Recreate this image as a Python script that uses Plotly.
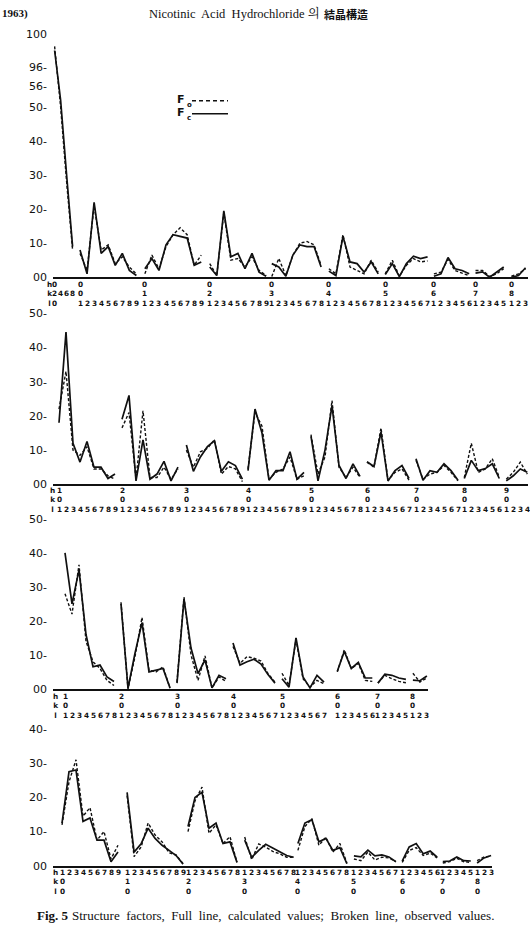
import plotly.graph_objects as go

W, H = 530, 940

# ---------------- DATA ----------------
# Panel 1 : 0kl reflections (Fc = calculated, Fo = observed)
P1_FC = [
    [98, 52, 30, 9],
    [8, 1, 22, 7, 9, 3.5, 7, 2, 0.5],
    [2.5, 5.5, 2, 9.5, 12.5, 12, 11.5, 3.5, 4.5],
    [3, 0.5, 19.5, 6, 7, 2.5, 7, 1.5, 0.3],
    [4, 3, 0.3, 6.5, 9.5, 9, 9, 3],
    [1.8, 0.5, 12, 4.5, 4, 1.5, 4.5, 1],
    [0.8, 4, 0.2, 4, 6.2, 5.5, 6],
    [0.3, 1, 5.8, 2.5, 2, 1],
    [1.2, 1.6, 0, 1.5, 3],
    [0, 0.5, 2.8],
]
P1_FO = [
    [98.5, 50, 28, 8],
    [7, 2, 21, 8, 9.5, 4, 6, 3, 1],
    [1, 6.5, 2.5, 9, 12.5, 14.5, 12.5, 3.5, 6.5],
    [4, 0.5, 19, 5, 5.5, 3, 6, 2, 0.5],
    [0.2, 5.5, 0.5, 6.5, 10, 10.5, 9.5, 3.5],
    [2.5, 1, 12.5, 3, 2, 1, 5, 1.5],
    [1, 5, 0.3, 3.5, 5.5, 4.5, 4.8],
    [1, 1.5, 5.2, 2, 1.2, 0.5],
    [2, 2, 0.2, 1, 2.5],
    [0.3, 1, 2.5],
]
P1_H = ["0", "0", "0", "0", "0", "0", "0", "0", "0", "0"]
P1_K = [None, "0", "1", "2", "3", "4", "5", "6", "7", "8"]
P1_L = ["0", None, None, None, None, None, None, None, None, None]
P1_RUN0 = ["2", "4", "6", "8"]          # k values of the first group

# Panel 2 : h0l, h = 1..9
P2_FC = [
    [18, 44.5, 12, 6.5, 12.5, 5, 5, 1.7, 3],
    [19, 26, 1, 13, 1.5, 3, 6.7, 1, 5],
    [11.5, 3.8, 8, 11, 12.7, 3.8, 6.6, 5.5, 1.5],
    [4, 22, 15, 1.2, 4, 4, 9.5, 1.5, 3.5],
    [14, 1, 10, 23, 5.5, 1.7, 6, 2.3],
    [6.6, 5.2, 15.3, 1, 4, 5.5, 1.7],
    [7.5, 1.2, 4, 3.5, 6, 4, 1.2],
    [1.7, 7, 4, 4.6, 6, 1.7],
    [1, 2.5, 4.5, 3.5],
]
P2_FO = [
    [22, 33, 10, 8.5, 11, 4.5, 4.5, 2.5, 1.5],
    [16.5, 21, 1.5, 21.5, 2, 2, 5, 1.5, 4.5],
    [10, 5, 9.5, 10.5, 13, 3, 5.2, 4.5, 0.8],
    [4.5, 21, 17, 1.5, 3.5, 4.5, 8, 1.5, 2.5],
    [14.5, 3, 8, 24.5, 5, 2, 5, 2],
    [6.5, 5, 16.5, 1.2, 3.5, 4.5, 1.2],
    [7, 1.5, 3, 3.5, 5.5, 3.5, 1],
    [2, 12, 3.5, 4.5, 7.5, 2],
    [1.5, 3.5, 6.5, 3],
]
P2_H = ["1", "2", "3", "4", "5", "6", "7", "8", "9"]
P2_K = ["0", "0", "0", "0", "0", "0", "0", "0", "0"]

# Panel 3 : h0l, h = 1..8 (second set)
P3_FC = [
    [40, 25, 35, 16, 6.5, 7, 3.5, 2.2],
    [25, 0.2, 10.5, 19.5, 5, 5.5, 6, 0.3],
    [1.7, 26.5, 12, 4.5, 8.5, 0.3, 4, 3],
    [13.5, 7, 8, 8.7, 7.3, 4.2, 1.7],
    [3, 0.5, 15, 3.5, 0.3, 4, 2],
    [5.2, 11, 6, 7.8, 3.2, 3.2],
    [1.7, 4.3, 4, 3.2, 2.8],
    [2.6, 2.4, 3.8],
]
P3_FO = [
    [28, 22, 36.5, 14, 8, 6, 2.5, 1],
    [25.5, 0, 9.5, 21, 5.5, 5, 6.5, 0.2],
    [2, 27, 10, 2.5, 9.7, 0.3, 3.5, 2.2],
    [12.5, 7.5, 9.5, 9, 8.2, 4.5, 2],
    [4.6, 1, 14.5, 3, 0.5, 2.5, 1.5],
    [5, 11.5, 6, 7.5, 2.5, 2.2],
    [1.7, 4, 3, 2.2, 1.8],
    [4.6, 2, 3.2],
]
P3_H = ["1", "2", "3", "4", "5", "6", "7", "8"]
P3_K = ["0", "0", "0", "0", "0", "0", "0", "0"]

# Panel 4 : hk0, k = 0..8
P4_FC = [
    [12.5, 27.5, 28, 13, 14, 7.5, 7.5, 1.2, 4],
    [21.5, 4, 6.4, 11, 8, 6, 4.5, 3, 0.5],
    [11.5, 20, 21.5, 11, 12.5, 6.5, 7, 1],
    [7.5, 2.5, 4.5, 6.3, 5.2, 4, 3, 2.5],
    [6.5, 12.5, 13.5, 7, 8, 4.5, 5.3, 0.6],
    [2.9, 2.6, 4.6, 2.9, 3.2, 2.6, 1.2],
    [1.4, 5.5, 6.5, 3.5, 4.3, 2.5],
    [1.2, 1.4, 2.6, 1.5, 1.4],
    [0.8, 2.3, 3],
]
P4_FO = [
    [12, 24.5, 31, 14.5, 17, 7.5, 10, 2, 6],
    [20.5, 2.7, 5.5, 12.5, 9, 7, 3.8, 3.2, 0.6],
    [10, 19, 23, 9.5, 12, 6.5, 8.5, 1],
    [8.4, 1.8, 6.4, 5.5, 4.2, 3.5, 2.5, 2.5],
    [4.5, 11.5, 13.8, 6, 8.3, 4, 6.5, 0.8],
    [2, 1.5, 4, 1.7, 2.5, 2.3, 1.2],
    [1.0, 4.5, 5.3, 3, 3.7, 2.3],
    [0.8, 1.2, 2.2, 1.2, 1],
    [1.5, 2.6, 2.8],
]
P4_K = ["0", "1", "2", "3", "4", "5", "6", "7", "8"]
P4_L = ["0", "0", "0", "0", "0", "0", "0", "0", "0"]

P1_YTICKS = [100, 96, 56, 50, 40, 30, 20, 10, 0]
P2_YTICKS = [50, 40, 30, 20, 10, 0]
P3_YTICKS = [50, 40, 30, 20, 10, 0]
P4_YTICKS = [40, 30, 20, 10, 0]

# ---------------- LAYOUT SETTINGS ----------------
INK = "#111111"
LEFT_PX = 53
NBSP = "\u00a0"


def brk(v):
    """Broken scale of the first panel (56..96 and 96..100 compressed)."""
    if v <= 56:
        return v
    if v <= 96:
        return 56 + (v - 56) * (5.7 / 40)
    return 61.7 + (v - 96) * (9.6 / 4)


def ident(v):
    return v


def ylab(v):
    return "00" if v == 0 else ("100" if v == 100 else f"{v}-")


def runs(groups):
    return [[str(i + 1) for i in range(len(g))] for g in groups]


panels = [
    dict(fc=P1_FC, fo=P1_FO, tf=brk, yt=P1_YTICKS,
         rows=[P1_H, P1_K, P1_L], run=[P1_RUN0] + runs(P1_FC[1:]),
         x0=80, step=7.05, right=528,
         starts=[-3.6, 0, 9.2, 18.4, 27.2, 35.3, 43.3, 50.2, 56.1, 61.2],
         gstep=[0.85] + [1] * 9,
         zero=276.5, ppu=3.45, top=72, head_x=49.5, lab_top=2),
    dict(fc=P2_FC, fo=P2_FO, tf=ident, yt=P2_YTICKS,
         rows=[P2_H, P2_K, [None] * 9], run=runs(P2_FC),
         x0=59, step=7.0, right=528,
         starts=[0, 9, 18.2, 27, 36, 44, 51, 57.9, 63.9], gstep=[1] * 9,
         zero=486, ppu=3.46, top=52, head_x=52, lab_top=1),
    dict(fc=P3_FC, fo=P3_FO, tf=ident, yt=P3_YTICKS,
         rows=[P3_H, P3_K, [None] * 8], run=runs(P3_FC),
         x0=65, step=7.0, right=428,
         starts=[0, 8, 16, 24, 31, 38.9, 44.7, 49.7], gstep=[1] * 8,
         zero=693, ppu=3.44, top=51.5, head_x=55, lab_top=2),
    dict(fc=P4_FC, fo=P4_FO, tf=ident, yt=P4_YTICKS,
         rows=[[None] * 9, P4_K, P4_L], run=runs(P4_FC),
         x0=62, step=7.0, right=492,
         starts=[0, 9.3, 18, 26.1, 33.7, 41.7, 48.6, 54.4, 59.3], gstep=[1] * 9,
         zero=872, ppu=3.46, top=42.5, head_x=55, lab_top=1),
]

fig = go.Figure()
annotations = []
shapes = []
layout = dict(
    width=W, height=H, margin=dict(l=0, r=0, t=0, b=0),
    paper_bgcolor="white", plot_bgcolor="white", showlegend=False,
)
lab_font = dict(family="DejaVu Sans", size=7.3, color=INK, weight=700)

for n, p in enumerate(panels, start=1):
    xa = "x" if n == 1 else f"x{n}"
    ya = "y" if n == 1 else f"y{n}"
    tf = p["tf"]
    for series, dash, width in ((p["fo"], "3px,2px", 1.4), (p["fc"], "solid", 1.7)):
        xs, ys = [], []
        for g, vals in enumerate(series):
            for i, v in enumerate(vals):
                xs.append(p["starts"][g] + i * p["gstep"][g])
                ys.append(tf(v))
            xs.append(None)
            ys.append(None)
        fig.add_trace(go.Scatter(
            x=xs, y=ys, mode="lines", xaxis=xa, yaxis=ya,
            line=dict(color=INK, width=width, dash=dash),
            connectgaps=False, cliponaxis=False, hoverinfo="skip"))

    xr0 = (LEFT_PX - p["x0"]) / p["step"]
    xr1 = (p["right"] - p["x0"]) / p["step"]
    ybot = 1 - p["zero"] / H
    ytop = 1 - (p["zero"] - p["top"] * p["ppu"]) / H
    key_x = "xaxis" if n == 1 else f"xaxis{n}"
    key_y = "yaxis" if n == 1 else f"yaxis{n}"
    layout[key_x] = dict(
        domain=[LEFT_PX / W, p["right"] / W], range=[xr0, xr1], anchor=ya,
        showline=True, linecolor=INK, linewidth=1.6, showgrid=False,
        zeroline=False, showticklabels=False, ticks="", fixedrange=True)
    layout[key_y] = dict(
        domain=[ybot, ytop], range=[0, p["top"]],
        anchor=xa, showline=False, showgrid=False, zeroline=False,
        tickmode="array", tickvals=[tf(v) for v in p["yt"]],
        ticktext=[ylab(v) for v in p["yt"]], ticks="", ticklabelstandoff=5,
        tickfont=dict(family="DejaVu Sans", size=11, color=INK), fixedrange=True)

    # h / k / l label columns under the axis (one text block per column)
    annotations.append(dict(
        x=p["head_x"] / W, xref="paper", xanchor="center",
        y=0, yref=ya, yshift=-p["lab_top"], yanchor="top",
        text="h<br>k<br>l", showarrow=False, font=lab_font, borderpad=0))
    for g in range(len(p["fc"])):
        for i in range(len(p["fc"][g])):
            lines = []
            for r in range(3):
                fixed = p["rows"][r][g]
                if fixed is None:
                    lines.append(p["run"][g][i])
                else:
                    lines.append(fixed if i == 0 else NBSP)
            annotations.append(dict(
                x=p["starts"][g] + i * p["gstep"][g], xref=xa, xanchor="center",
                y=0, yref=ya, yshift=-p["lab_top"], yanchor="top",
                text="<br>".join(lines), showarrow=False, font=lab_font,
                borderpad=0))

# legend (text left, line right)
for sub, ypx, dash in (("o", 97, "4px,3px"), ("c", 110, "solid")):
    annotations.append(dict(x=176 / W, y=1 - ypx / H, xref="paper", yref="paper",
                            xanchor="left", yanchor="middle", text="F",
                            showarrow=False, borderpad=0,
                            font=dict(family="DejaVu Sans", size=11, color=INK, weight=700)))
    annotations.append(dict(x=185.5 / W, y=1 - (ypx + 5) / H, xref="paper", yref="paper",
                            xanchor="left", yanchor="middle", text=sub,
                            showarrow=False, borderpad=0,
                            font=dict(family="DejaVu Sans", size=7, color=INK, weight=700)))
    shapes.append(dict(type="line", xref="paper", yref="paper",
                       x0=192 / W, x1=228 / W, y0=1 - (ypx + 1) / H, y1=1 - (ypx + 1) / H,
                       line=dict(color=INK, width=1.5, dash=dash)))

# page header and caption
serif = "Liberation Serif, Noto Serif CJK KR, Noto Sans CJK KR"
annotations.append(dict(x=0, y=1 - 10 / H, xref="paper", yref="paper",
                        xanchor="left", yanchor="middle", text="1963)",
                        showarrow=False,
                        font=dict(family=serif, size=11, color=INK, weight=700)))
annotations.append(dict(x=147 / W, y=1 - 10 / H, xref="paper", yref="paper",
                        xanchor="left", yanchor="middle",
                        text="Nicotinic  Acid  Hydrochloride 의",
                        showarrow=False, font=dict(family=serif, size=12.5, color=INK)))
annotations.append(dict(x=322 / W, y=1 - 10 / H, xref="paper", yref="paper",
                        xanchor="left", yanchor="middle", text="結晶構造",
                        showarrow=False,
                        font=dict(family="Noto Sans CJK KR", size=11, color=INK, weight=700)))
annotations.append(dict(x=35 / W, y=1 - 922 / H, xref="paper", yref="paper",
                        xanchor="left", yanchor="middle", text="Fig. 5",
                        showarrow=False,
                        font=dict(family=serif, size=13, color=INK, weight=700)))
annotations.append(dict(x=70 / W, y=1 - 922 / H, xref="paper", yref="paper",
                        xanchor="left", yanchor="middle",
                        text="Structure  factors,  Full  line,  calculated  values;  Broken  line,  observed  values.",
                        showarrow=False, font=dict(family=serif, size=13, color=INK)))

layout["annotations"] = annotations
layout["shapes"] = shapes
fig.update_layout(**layout)
fig.write_html("out.html")
